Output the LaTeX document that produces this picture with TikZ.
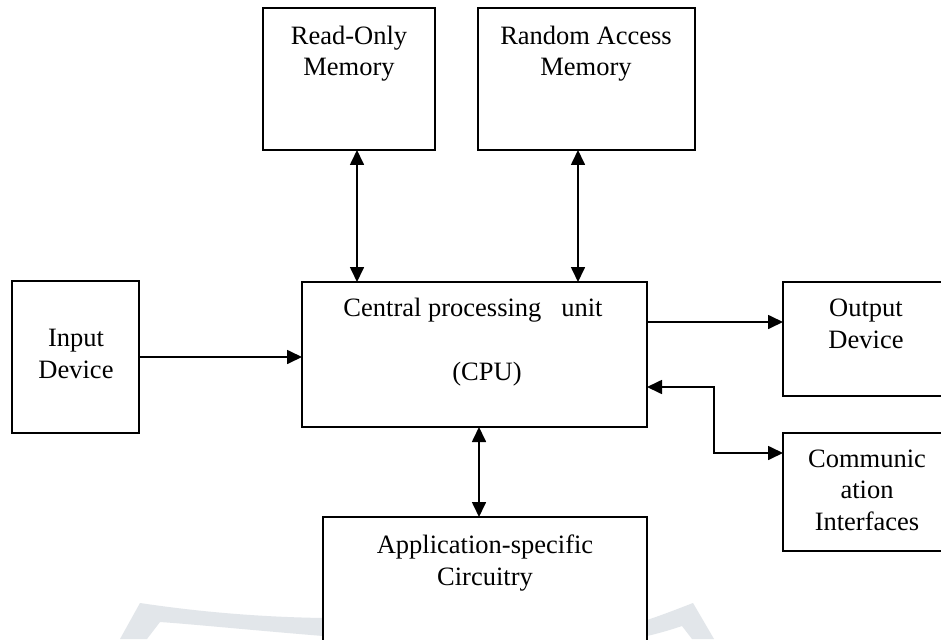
\documentclass[tikz,border=0pt]{standalone}
\usepackage{fontspec}
\setmainfont{Liberation Serif}
\usetikzlibrary{arrows.meta,calc}
\definecolor{wm}{RGB}{226,230,234}
\begin{document}
\begin{tikzpicture}[x=1pt,y=-1pt,
  box/.style={draw=black,line width=1.5pt,inner sep=0pt,outer sep=0pt,anchor=north west,fill=none},
  lbl/.style={font=\fontsize{26.5}{31.5}\selectfont,align=center,inner sep=0pt,anchor=base},
  conn/.style={line width=1.7pt,-{Triangle[length=15pt,width=14pt]}},
  conn2/.style={line width=1.7pt,{Triangle[length=15pt,width=14pt]}-{Triangle[length=15pt,width=14pt]}}]
\useasboundingbox (0,0) rectangle (941,639);
\clip (0,0) rectangle (941,639);
\fill[white] (0,0) rectangle (941,639);
% faint watermark
\fill[wm] (120,639) -- (140,603) .. controls (200,612) and (260,617) .. (323,618) -- (323,636) .. controls (250,630) and (190,624) .. (160,622) -- (147,639) -- cycle;
\fill[wm] (647,620) .. controls (665,614) and (680,608) .. (693,603) -- (714,639) -- (692,639) -- (682,626) .. controls (670,630) and (660,633) .. (647,636) -- cycle;
% boxes
\node[box,minimum width=172pt,minimum height=142pt] (rom) at (263,8) {};
\node[box,minimum width=217pt,minimum height=142pt] (ram) at (478,8) {};
\node[box,minimum width=127pt,minimum height=152pt] (inp) at (12,281) {};
\node[box,minimum width=345pt,minimum height=145pt] (cpu) at (302,282) {};
\node[box,minimum width=166pt,minimum height=114pt] (out) at (783,282) {};
\node[box,minimum width=168pt,minimum height=118pt] (com) at (783,433) {};
\node[box,minimum width=324pt,minimum height=143pt] (asc) at (323,517) {};
% labels (anchor = baseline of the last line)
\node[lbl] (romt) at (349,76) {Read-Only\\Memory};
\node[lbl] (ramt) at (586,76) {Random Access\\Memory};
\node[lbl] (inpt) at (76,378) {Input\\Device};
\node[lbl] (cput1) at (473,316) {Central processing\ \ \ unit};
\node[lbl] (cput2) at (487,380) {(CPU)};
\node[lbl] (outt) at (866,348) {Output\\Device};
\node[lbl] (comt) at (867,530) {Communic\\ation\\Interfaces};
\node[lbl] (asct) at (485,585) {Application-specific\\Circuitry};
% connectors
\coordinate (bend) at (714,453);
\draw[conn2] (rom.south -| 357,0) -- (cpu.north -| 357,0);
\draw[conn2] (ram.south -| 578,0) -- (cpu.north -| 578,0);
\draw[conn] (inp.east |- 0,357) -- (cpu.west |- 0,357);
\draw[conn] (cpu.east |- 0,322) -- (out.west |- 0,322);
\draw[conn2] (cpu.east |- 0,387) -| (bend) -- (com.west |- bend);
\draw[conn2] (cpu.south -| 479,0) -- (asc.north -| 479,0);
\end{tikzpicture}
\end{document}
